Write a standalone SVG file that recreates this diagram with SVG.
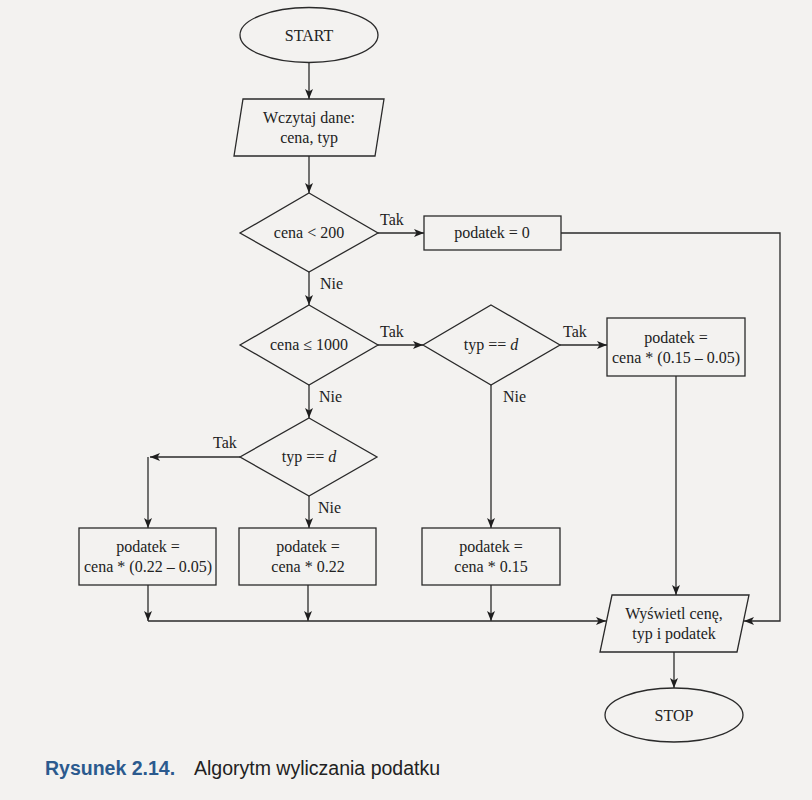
<svg xmlns="http://www.w3.org/2000/svg" width="812" height="800" viewBox="0 0 812 800">
<defs>
<marker id="ah" markerWidth="10" markerHeight="8" refX="10" refY="4" orient="auto" markerUnits="userSpaceOnUse">
<path d="M0,0 L10,4 L0,8 L2.5,4 Z" fill="#1e1e1e"/>
</marker>
</defs>
<style>
.s{fill:none;stroke:#2a2a2a;stroke-width:1.3}
.c{fill:none;stroke:#2a2a2a;stroke-width:1.3}
.t{font-family:"Liberation Serif","Times New Roman",serif;font-size:16px;fill:#222;text-anchor:middle}
.l{font-family:"Liberation Serif","Times New Roman",serif;font-size:16px;fill:#222}
.i{font-style:italic}
</style>
<rect x="0" y="0" width="812" height="800" fill="#f3f2f0"/>

<g id="start">
<ellipse class="s" cx="309" cy="35" rx="69" ry="27.5"/>
<text class="t" x="309" y="41">START</text>
</g>
<g id="input">
<polygon class="s" points="243,99 384,99 375,156 234,156"/>
<text class="t" x="309" y="123">Wczytaj dane:</text>
<text class="t" x="309" y="143">cena, typ</text>
</g>
<g id="d1">
<polygon class="s" points="309,193 378,233 309,272 240,233"/>
<text class="t" x="309" y="238">cena &lt; 200</text>
</g>
<g id="p0">
<rect class="s" x="424" y="216" width="137" height="34"/>
<text class="t" x="492" y="238">podatek = 0</text>
</g>
<g id="d2">
<polygon class="s" points="309,305 378,345 309,385 240,345"/>
<text class="t" x="309" y="350">cena ≤ 1000</text>
</g>
<g id="d3">
<polygon class="s" points="491,305 560,345 491,385 423,345"/>
<text class="t" x="491" y="350">typ == <tspan class="i">d</tspan></text>
</g>
<g id="p1">
<rect class="s" x="607" y="318" width="138" height="58"/>
<text class="t" x="676" y="343">podatek =</text>
<text class="t" x="676" y="363">cena * (0.15 – 0.05)</text>
</g>
<g id="d4">
<polygon class="s" points="309,418 377,457 309,496 240,457"/>
<text class="t" x="309" y="462">typ == <tspan class="i">d</tspan></text>
</g>
<g id="pA">
<rect class="s" x="79" y="528" width="137" height="57"/>
<text class="t" x="148" y="552">podatek =</text>
<text class="t" x="148" y="572">cena * (0.22 – 0.05)</text>
</g>
<g id="pB">
<rect class="s" x="239" y="528" width="137" height="57"/>
<text class="t" x="308" y="552">podatek =</text>
<text class="t" x="308" y="572">cena * 0.22</text>
</g>
<g id="pC">
<rect class="s" x="422" y="528" width="138" height="57"/>
<text class="t" x="491" y="552">podatek =</text>
<text class="t" x="491" y="572">cena * 0.15</text>
</g>
<g id="output">
<polygon class="s" points="612,595 749,595 737,652 600,652"/>
<text class="t" x="674" y="619">Wyświetl cenę,</text>
<text class="t" x="674" y="639">typ i podatek</text>
</g>
<g id="stop">
<ellipse class="s" cx="674" cy="715" rx="69" ry="27"/>
<text class="t" x="674" y="721">STOP</text>
</g>

<g id="connectors">
<line class="c" x1="309" y1="62.5" x2="309" y2="99" marker-end="url(#ah)"/>
<line class="c" x1="309" y1="156" x2="309" y2="193" marker-end="url(#ah)"/>
<line class="c" x1="378" y1="233" x2="424" y2="233" marker-end="url(#ah)"/>
<line class="c" x1="309" y1="272" x2="309" y2="305" marker-end="url(#ah)"/>
<line class="c" x1="378" y1="345" x2="423" y2="345" marker-end="url(#ah)"/>
<line class="c" x1="560" y1="345" x2="607" y2="345" marker-end="url(#ah)"/>
<line class="c" x1="309" y1="385" x2="309" y2="418" marker-end="url(#ah)"/>
<line class="c" x1="491" y1="385" x2="491" y2="528" marker-end="url(#ah)"/>
<line class="c" x1="240" y1="457" x2="150" y2="457" marker-end="url(#ah)"/>
<path class="c" d="M148,457 V528" marker-end="url(#ah)"/>
<line class="c" x1="309" y1="496" x2="309" y2="528" marker-end="url(#ah)"/>
<line class="c" x1="148" y1="585" x2="148" y2="621" marker-end="url(#ah)"/>
<line class="c" x1="308" y1="585" x2="308" y2="621" marker-end="url(#ah)"/>
<line class="c" x1="491" y1="585" x2="491" y2="621" marker-end="url(#ah)"/>
<line class="c" x1="148" y1="621" x2="606" y2="621" marker-end="url(#ah)"/>
<line class="c" x1="676" y1="376" x2="676" y2="595" marker-end="url(#ah)"/>
<path class="c" d="M561,233 H780 V621 H744" marker-end="url(#ah)"/>
<line class="c" x1="674" y1="652" x2="674" y2="688" marker-end="url(#ah)"/>
<text class="l" x="380" y="225">Tak</text>
<text class="l" x="320" y="289">Nie</text>
<text class="l" x="380" y="337">Tak</text>
<text class="l" x="563" y="337">Tak</text>
<text class="l" x="319" y="402">Nie</text>
<text class="l" x="503" y="402">Nie</text>
<text class="l" x="213" y="448">Tak</text>
<text class="l" x="318" y="513">Nie</text>
</g>

<text x="45" y="775" style="font-family:'Liberation Sans',Arial,sans-serif;font-size:19.5px;fill:#2b5a8e;font-weight:bold">Rysunek 2.14.<tspan x="194" style="font-weight:normal;fill:#222">Algorytm wyliczania podatku</tspan></text>
</svg>
